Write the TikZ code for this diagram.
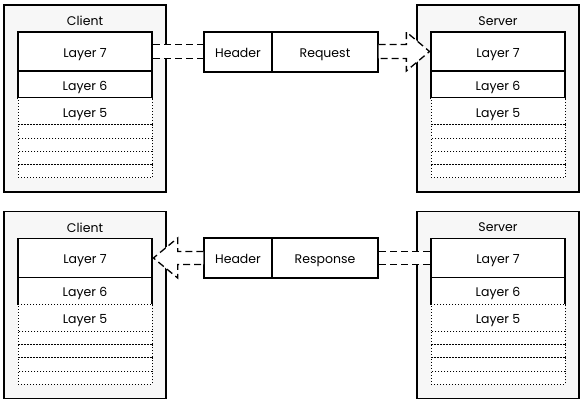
\documentclass[tikz,border=0pt]{standalone}
\usepackage{fontspec}
\setmainfont{Poppins}
\usetikzlibrary{calc,positioning}

\begin{document}
\begin{tikzpicture}[x=1pt,y=-1pt,font=\fontsize{12.5}{14}\selectfont,
  panel/.style={draw,line width=1.6pt,fill=black!3,minimum width=162pt,minimum height=187pt,inner sep=0pt},
  layerbox/.style={draw,line width=1.3pt,fill=white,minimum width=134pt,inner sep=0pt,text height=11.5pt,text depth=0pt},
  lowbox/.style={draw,dotted,line width=1pt,fill=white,minimum width=134pt,inner sep=0pt,text height=11.5pt,text depth=0pt},
  msgbox/.style={draw,line width=1.3pt,fill=white,minimum height=40pt,inner sep=0pt,text height=11.5pt,text depth=0pt},
  flow/.style={line width=1.3pt,dash pattern=on 7pt off 4pt}]
  \useasboundingbox (0,0) rectangle (584,403);

  % Client and server stacks
  \foreach \px/\py/\nm/\ttl in {85/0/cl1/Client, 498/0/sv1/Server, 85/206.5/cl2/Client, 498/206.5/sv2/Server} {
    \node[panel] (\nm) at (\px,98.5+\py) {};
    \node[below=12pt of \nm.north,inner sep=0pt,text depth=0pt] (\nm-t) {\ttl};
    \node[layerbox,minimum height=39pt] (\nm-l7) at (\px,51.5+\py) {Layer 7};
    \node[layerbox,minimum height=27pt] (\nm-l6) at (\px,84.5+\py) {Layer 6};
    \node[lowbox,minimum height=27pt] (\nm-l5) at (\px,111.5+\py) {Layer 5};
    \foreach \k in {0,...,3}
      \node[lowbox,minimum height=13.25pt] (\nm-r\k) at (\px,131.6+13.25*\k+\py) {};
  }

  % Request and response
  \node[msgbox,minimum width=68pt] (hdr1) at (238,52) {Header};
  \node[msgbox,minimum width=106pt] (req1) at (325,52) {Request};
  \node[msgbox,minimum width=68pt] (hdr2) at (238,258) {Header};
  \node[msgbox,minimum width=106pt] (res2) at (325,258) {Response};

  % Client to server
  \fill[white] ($(cl1-l7.east)+(0.8,-7)$) rectangle ($(hdr1.west |- cl1-l7.east)+(-0.7,7)$);
  \draw[flow] ($(cl1-l7.east)+(0.8,-7)$) -- ($(hdr1.west |- cl1-l7.east)+(0,-7)$);
  \draw[flow] ($(cl1-l7.east)+(0.8,7)$) -- ($(hdr1.west |- cl1-l7.east)+(0,7)$);
  \draw[flow,fill=white] ($(req1.east |- sv1-l7.west)+(0,-7)$) -- ($(sv1-l7.west)+(-24,-7)$)
    -- ($(sv1-l7.west)+(-24,-19.5)$) -- ($(sv1-l7.west)+(-0.8,0)$) -- ($(sv1-l7.west)+(-24,19.5)$)
    -- ($(sv1-l7.west)+(-24,7)$) -- ($(req1.east |- sv1-l7.west)+(0,7)$);

  % Server to client
  \fill[white] ($(sv2-l7.west)+(-0.8,-6.5)$) rectangle ($(res2.east |- sv2-l7.west)+(0.7,6.5)$);
  \draw[flow] ($(sv2-l7.west)+(-0.8,-6.5)$) -- ($(res2.east |- sv2-l7.west)+(0,-6.5)$);
  \draw[flow] ($(sv2-l7.west)+(-0.8,6.5)$) -- ($(res2.east |- sv2-l7.west)+(0,6.5)$);
  \draw[flow,fill=white] ($(hdr2.west |- cl2-l7.east)+(0,-6.5)$) -- ($(cl2-l7.east)+(25,-6.5)$)
    -- ($(cl2-l7.east)+(25,-20)$) -- ($(cl2-l7.east)+(0.8,0)$) -- ($(cl2-l7.east)+(25,20)$)
    -- ($(cl2-l7.east)+(25,6.5)$) -- ($(hdr2.west |- cl2-l7.east)+(0,6.5)$);
\end{tikzpicture}
\end{document}
